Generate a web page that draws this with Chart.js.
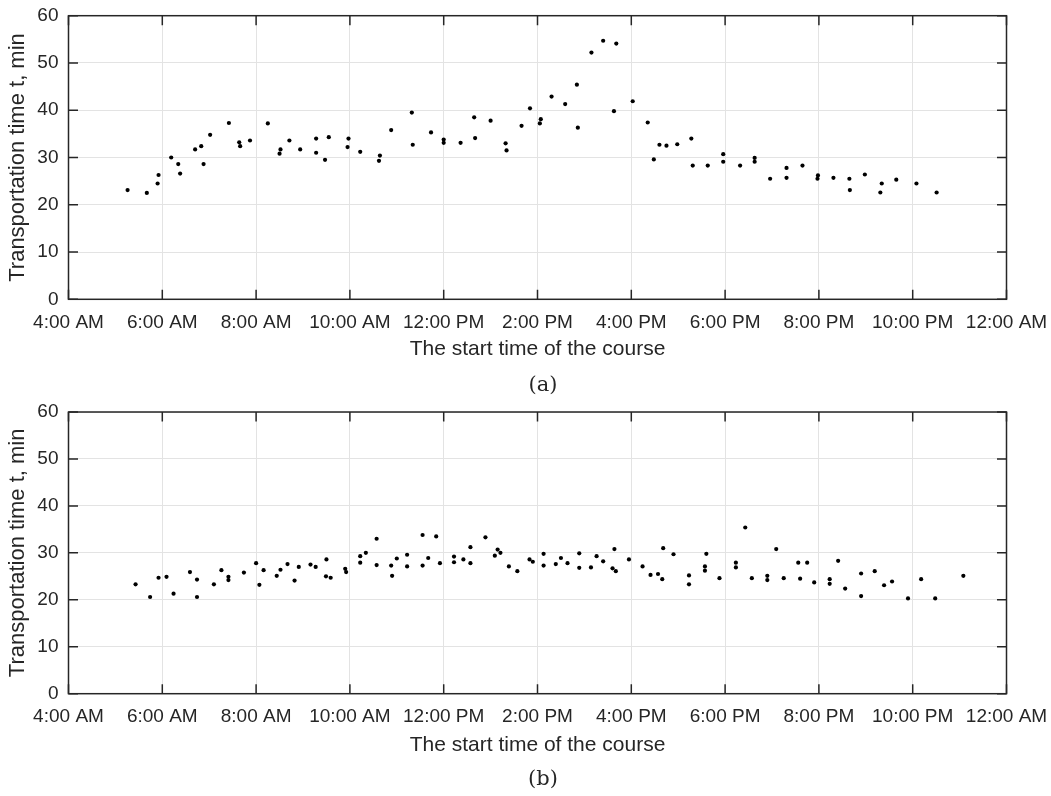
<!DOCTYPE html>
<html>
<head>
<meta charset="utf-8">
<script src="https://cdn.jsdelivr.net/npm/chart.js@4.4.0/dist/chart.umd.min.js"></script>
<style>
  body { margin: 0; background: #fff; }
  #wrap { position: relative; width: 1051px; height: 796px; overflow: hidden; }
  canvas { position: absolute; left: 0; }
  #chartA { top: 0; }
  #chartB { top: 396px; }
  .cap {
    position: absolute;
    left: 543px;
    transform: translateX(-50%);
    font-family: "DejaVu Serif", serif;
    font-size: 21px;
    line-height: 24px;
    color: #262626;
  }
</style>
</head>
<body>
<div id="wrap">
  <canvas id="chartA" width="1051" height="398"></canvas>
  <canvas id="chartB" width="1051" height="398"></canvas>
  <div class="cap" style="top:372px">(a)</div>
  <div class="cap" style="top:766px">(b)</div>
</div>
<script>
// start time of the course, in hours since midnight
const hoursA = [5.26, 5.67, 5.90, 5.92, 6.19, 6.34, 6.38, 6.70, 6.83, 6.88, 7.02, 7.42, 7.64, 7.66, 7.87,
  8.25, 8.50, 8.52, 8.71, 8.94, 9.28, 9.28, 9.47, 9.55, 9.95, 9.97, 10.22, 10.62, 10.64, 10.88,
  11.32, 11.34, 11.73, 12.0, 12.0, 12.36, 12.65, 12.67, 13.0, 13.32, 13.34, 13.66, 13.84, 14.05, 14.07,
  14.30, 14.59, 14.84, 14.86, 15.15, 15.40, 15.63, 15.68, 16.03, 16.35, 16.48, 16.60, 16.75, 16.98,
  17.28, 17.31, 17.63, 17.96, 17.96, 18.32, 18.63, 18.63, 18.96, 19.31, 19.31, 19.65, 19.97, 19.98,
  20.31, 20.65, 20.66, 20.98, 21.31, 21.34, 21.65, 22.08, 22.51];
// transportation time, minutes
const minutesA = [23.1, 22.5, 24.5, 26.3, 30.0, 28.6, 26.6, 31.7, 32.4, 28.6, 34.8, 37.3, 33.2, 32.4, 33.6,
  37.2, 30.8, 31.7, 33.6, 31.7, 34.0, 31.0, 29.5, 34.3, 32.2, 34.0, 31.2, 29.3, 30.4, 35.8,
  39.5, 32.7, 35.3, 33.8, 33.1, 33.1, 38.5, 34.1, 37.8, 33.0, 31.5, 36.7, 40.4, 37.2, 38.1,
  42.9, 41.3, 45.4, 36.3, 52.2, 54.7, 39.8, 54.1, 41.9, 37.4, 29.6, 32.7, 32.5, 32.8,
  34.0, 28.3, 28.3, 30.7, 29.1, 28.3, 29.9, 29.1, 25.5, 27.8, 25.7, 28.3, 25.5, 26.2,
  25.7, 25.5, 23.1, 26.4, 22.6, 24.5, 25.3, 24.5, 22.6];

const hoursB = [5.43, 5.74, 5.92, 6.09, 6.24, 6.59, 6.74, 6.74, 7.10, 7.26, 7.41, 7.41, 7.74, 8.00, 8.07,
  8.16, 8.44, 8.52, 8.67, 8.82, 8.91, 9.16, 9.27, 9.49, 9.50, 9.59, 9.90, 9.92, 10.22, 10.22,
  10.34, 10.57, 10.57, 10.88, 10.90, 11.0, 11.22, 11.22, 11.55, 11.55, 11.67, 11.84, 11.92, 12.22, 12.22,
  12.42, 12.57, 12.57, 12.89, 13.09, 13.15, 13.21, 13.39, 13.57, 13.83, 13.90, 14.13, 14.13, 14.39,
  14.50, 14.64, 14.89, 14.89, 15.14, 15.26, 15.40, 15.60, 15.64, 15.67, 15.95, 16.24, 16.41, 16.57,
  16.66, 16.68, 16.90, 17.23, 17.23, 17.57, 17.57, 17.60, 17.88, 18.23, 18.23, 18.43, 18.57, 18.90,
  18.90, 19.09, 19.25, 19.56, 19.60, 19.75, 19.90, 20.23, 20.23, 20.41, 20.56, 20.90, 20.90, 21.19,
  21.39, 21.56, 21.90, 22.18, 22.48, 23.08];
const minutesB = [23.3, 20.6, 24.7, 24.9, 21.3, 25.9, 24.3, 20.6, 23.3, 26.3, 24.9, 24.2, 25.8, 27.8, 23.2,
  26.3, 25.1, 26.4, 27.6, 24.1, 27.0, 27.5, 27.0, 25.0, 28.6, 24.7, 26.6, 25.9, 29.3, 27.9,
  30.0, 33.0, 27.4, 27.3, 25.1, 28.8, 29.6, 27.1, 33.8, 27.3, 28.9, 33.5, 27.8, 29.2, 28.0,
  28.6, 31.2, 27.8, 33.3, 29.4, 30.7, 30.0, 27.1, 26.1, 28.6, 28.1, 29.8, 27.3, 27.6,
  28.9, 27.8, 29.9, 26.8, 26.9, 29.3, 28.2, 26.7, 30.8, 26.1, 28.6, 27.1, 25.3, 25.5,
  24.4, 31.0, 29.7, 25.2, 23.3, 27.1, 26.2, 29.8, 24.6, 27.9, 26.9, 35.4, 24.6, 25.1,
  24.2, 30.8, 24.6, 27.9, 24.5, 27.9, 23.7, 24.4, 23.4, 28.3, 22.4, 25.6, 20.8, 26.1,
  23.1, 23.9, 20.3, 24.4, 20.3, 25.1];

const xTickLabels = ["4:00 AM", "6:00 AM", "8:00 AM", "10:00 AM", "12:00 PM", "2:00 PM",
  "4:00 PM", "6:00 PM", "8:00 PM", "10:00 PM", "12:00 AM"];
const yTicks = [0, 10, 20, 30, 40, 50, 60];

Chart.defaults.font.family = '"Liberation Sans", Arial, sans-serif';
Chart.defaults.color = "#262626";

const INK = "#262626";

// MATLAB-style box with inward ticks
const boxPlugin = {
  id: "box",
  afterDraw(chart) {
    const { ctx, chartArea: a, scales } = chart;
    const x = scales.x, y = scales.y;
    const len = 9.5;
    ctx.save();
    ctx.strokeStyle = INK;
    ctx.lineWidth = 1.5;
    ctx.beginPath();
    x.ticks.forEach((t) => {
      const px = x.getPixelForValue(t.value);
      ctx.moveTo(px, a.bottom);
      ctx.lineTo(px, a.bottom - len);
      ctx.moveTo(px, a.top);
      ctx.lineTo(px, a.top + len);
    });
    y.ticks.forEach((t) => {
      const py = y.getPixelForValue(t.value);
      ctx.moveTo(a.left, py);
      ctx.lineTo(a.left + len, py);
      ctx.moveTo(a.right, py);
      ctx.lineTo(a.right - len, py);
    });
    ctx.stroke();
    ctx.strokeRect(a.left, a.top, a.right - a.left, a.bottom - a.top);
    ctx.restore();
  },
};

function makeChart(id, hours, minutes, areaTop, areaBottom) {
  const canvas = document.getElementById(id);
  const H = canvas.height;
  return new Chart(canvas, {
    type: "scatter",
    data: {
      datasets: [
        {
          data: hours.map((h, i) => ({ x: h, y: minutes[i] })),
          backgroundColor: "#000",
          borderColor: "#000",
          pointRadius: 2.1,
          pointBorderWidth: 0,
        },
      ],
    },
    options: {
      responsive: false,
      animation: false,
      layout: {
        padding: { top: areaTop, right: 44.5, left: 0, bottom: 0 },
      },
      plugins: {
        legend: { display: false },
        tooltip: { enabled: false },
      },
      scales: {
        x: {
          type: "linear",
          min: 4,
          max: 24,
          afterFit: (scale) => {
            scale.height = H - areaBottom;
            scale.paddingLeft = 0;
            scale.paddingRight = 0;
          },
          ticks: {
            stepSize: 2,
            autoSkip: false,
            maxRotation: 0,
            padding: 12,
            color: INK,
            font: { size: 19 },
            callback: (v) => xTickLabels[(v - 4) / 2],
          },
          grid: { color: "#e3e3e3", lineWidth: 1, drawTicks: false },
          border: { display: false },
          title: {
            display: true,
            text: "The start time of the course",
            color: INK,
            font: { size: 21 },
            padding: { top: 0, bottom: 36 },
          },
        },
        y: {
          min: 0,
          max: 60,
          afterFit: (scale) => {
            scale.width = 68.5;
            scale.paddingTop = 0;
            scale.paddingBottom = 0;
          },
          afterBuildTicks: (scale) => {
            scale.ticks = yTicks.map((v) => ({ value: v }));
          },
          ticks: {
            padding: 10,
            color: INK,
            font: { size: 19 },
          },
          grid: { color: "#e3e3e3", lineWidth: 1, drawTicks: false },
          border: { display: false },
          title: {
            display: true,
            text: "Transportation time t, min",
            color: INK,
            font: { size: 22 },
            padding: { top: 5, bottom: 0 },
          },
        },
      },
    },
    plugins: [boxPlugin],
  });
}

makeChart("chartA", hoursA, minutesA, 15.7, 299.3);
makeChart("chartB", hoursB, minutesB, 16, 297.7);
</script>
</body>
</html>
